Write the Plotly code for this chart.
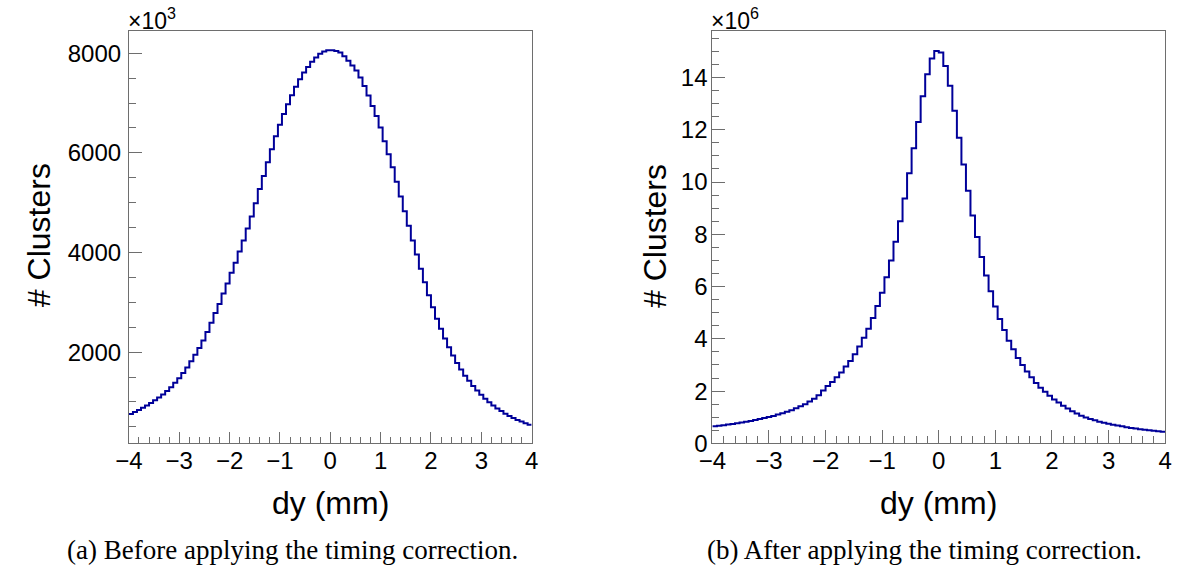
import numpy as np
import plotly.graph_objects as go

# ---------------- data ----------------
bin_low, bin_high, n_bins = -4.0, 4.0, 100

# (a) before timing correction, counts in units of 10^3
before_k = [
    760, 800, 840, 885, 930, 980, 1035, 1090, 1150, 1220,
    1295, 1385, 1477, 1582, 1693, 1817, 1948, 2085, 2235, 2405,
    2588, 2784, 2967, 3176, 3379, 3595, 3797, 4020, 4242, 4484,
    4725, 4987, 5275, 5536, 5810, 6072, 6333, 6562, 6778, 6974,
    7157, 7327, 7477, 7614, 7725, 7830, 7915, 7987, 8033, 8059,
    8059, 8046, 8013, 7941, 7850, 7752, 7654, 7510, 7340, 7150,
    6941, 6739, 6510, 6235, 5974, 5712, 5418, 5124, 4830, 4536,
    4242, 3961, 3673, 3405, 3144, 2902, 2673, 2471, 2275, 2098,
    1935, 1784, 1654, 1529, 1425, 1320, 1229, 1144, 1065, 994,
    928, 869, 817, 765, 719, 680, 641, 608, 575, 543,
]

# (b) after timing correction, counts in units of 10^6
after_m = [
    0.65, 0.67, 0.69, 0.72, 0.74, 0.77, 0.80, 0.83, 0.86, 0.89,
    0.93, 0.97, 1.01, 1.05, 1.10, 1.15, 1.21, 1.27, 1.34, 1.42,
    1.50, 1.60, 1.71, 1.84, 2.02, 2.19, 2.35, 2.53, 2.71, 2.94,
    3.15, 3.41, 3.71, 4.04, 4.39, 4.80, 5.26, 5.76, 6.36, 7.00,
    7.72, 8.50, 9.37, 10.34, 11.29, 12.30, 13.28, 14.13, 14.73, 15.02,
    14.96, 14.44, 13.69, 12.73, 11.70, 10.67, 9.67, 8.72, 7.90, 7.13,
    6.42, 5.82, 5.24, 4.76, 4.34, 3.93, 3.60, 3.27, 3.00, 2.75,
    2.53, 2.31, 2.13, 1.97, 1.82, 1.68, 1.56, 1.44, 1.33, 1.23,
    1.14, 1.06, 0.99, 0.93, 0.88, 0.83, 0.79, 0.75, 0.71, 0.68,
    0.65, 0.62, 0.59, 0.57, 0.54, 0.52, 0.50, 0.48, 0.46, 0.44,
]

x_title = "dy (mm)"
y_title = "# Clusters"
caption_a = "(a) Before applying the timing correction."
caption_b = "(b) After applying the timing correction."
exp_a = "×10<sup>3</sup>"
exp_b = "×10<sup>6</sup>"

# ---------------- figure ----------------
W, H = 1182, 581
edges = np.linspace(bin_low, bin_high, n_bins + 1)

def step_xy(vals):
    return list(edges), list(vals) + [vals[-1]]

LINE = "#000099"
AX = "#6e6e6e"
SANS = "Liberation Sans, Arial, Helvetica, sans-serif"
SERIF = "Liberation Serif, Times New Roman, serif"

fig = go.Figure()
xa, ya = step_xy(before_k)
fig.add_trace(go.Scatter(x=xa, y=ya, mode="lines", line=dict(color=LINE, width=2, shape="hv"),
                         xaxis="x", yaxis="y", hoverinfo="skip"))
xb, yb = step_xy(after_m)
fig.add_trace(go.Scatter(x=xb, y=yb, mode="lines", line=dict(color=LINE, width=2, shape="hv"),
                         xaxis="x2", yaxis="y2", hoverinfo="skip"))

def px(x):
    return x / W

def py(y):
    return (H - y) / H

frame_top, frame_bot = 32, 453.5
L_left, L_right = 117, 527
R_left, R_right = 711, 1172

def xaxis_cfg(dom, anchor, tl, mtl):
    return dict(domain=[px(dom[0]), px(dom[1])], anchor=anchor, range=[bin_low, bin_high],
                tickmode="linear", tick0=-4, dtick=1, ticks="inside", ticklen=tl, tickwidth=1,
                tickcolor=AX, showline=True, linecolor=AX, linewidth=1, mirror=True,
                showgrid=False, zeroline=False, ticklabelstandoff=-4,
                tickfont=dict(family=SANS, size=24, color="black"),
                minor=dict(ticks="inside", ticklen=mtl, dtick=0.2, tick0=-4, tickcolor=AX, tickwidth=1, showgrid=False))

def yaxis_cfg(anchor, rng, dt, mdt, tl, mtl, standoff):
    return dict(domain=[py(frame_bot), py(frame_top)], anchor=anchor, range=rng,
                tickmode="linear", tick0=0, dtick=dt, ticks="inside", ticklen=tl, tickwidth=1,
                tickcolor=AX, showline=True, linecolor=AX, linewidth=1, mirror=True,
                showgrid=False, zeroline=False, ticklabelstandoff=standoff,
                tickfont=dict(family=SANS, size=24, color="black"),
                minor=dict(ticks="inside", ticklen=mtl, dtick=mdt, tick0=0, tickcolor=AX, tickwidth=1, showgrid=False))

fig.update_layout(
    width=W, height=H,
    margin=dict(l=0, r=0, t=0, b=0),
    paper_bgcolor="white", plot_bgcolor="white",
    showlegend=False,
    xaxis=xaxis_cfg((L_left, L_right), "y", 11, 6),
    yaxis=yaxis_cfg("x", [170, 8440], 2000, 500, 13, 7, 2),
    xaxis2=xaxis_cfg((R_left, R_right), "y2", 13, 7),
    yaxis2=yaxis_cfg("x2", [0, 15.77], 2, 0.5, 13, 7, -1),
)

ann = []
def add_text(text, x, y, size, family=SANS, angle=0, xanchor="center", yanchor="middle"):
    ann.append(dict(text=text, x=px(x), y=py(y), xref="paper", yref="paper", showarrow=False,
                    textangle=angle, xanchor=xanchor, yanchor=yanchor,
                    font=dict(family=family, size=size, color="black")))

# axis titles
add_text(x_title, (L_left + L_right) / 2, 515, 32)
add_text(x_title, (R_left + R_right) / 2, 515, 32)
add_text(y_title, 25, 241, 32, angle=-90)
add_text(y_title, 652, 241, 32, angle=-90)
# exponent labels
add_text(exp_a, L_left - 3, 19, 23, xanchor="left")
add_text(exp_b, R_left - 3, 19, 23, xanchor="left")
# captions
add_text(caption_a, 52, 563, 27, family=SERIF, xanchor="left")
add_text(caption_b, 704, 563, 27, family=SERIF, xanchor="left")

fig.update_layout(annotations=ann)
fig.write_html("out.html",
               config={"displayModeBar": False},
               post_script="document.body.style.margin='0px';document.body.style.padding='0px';")
